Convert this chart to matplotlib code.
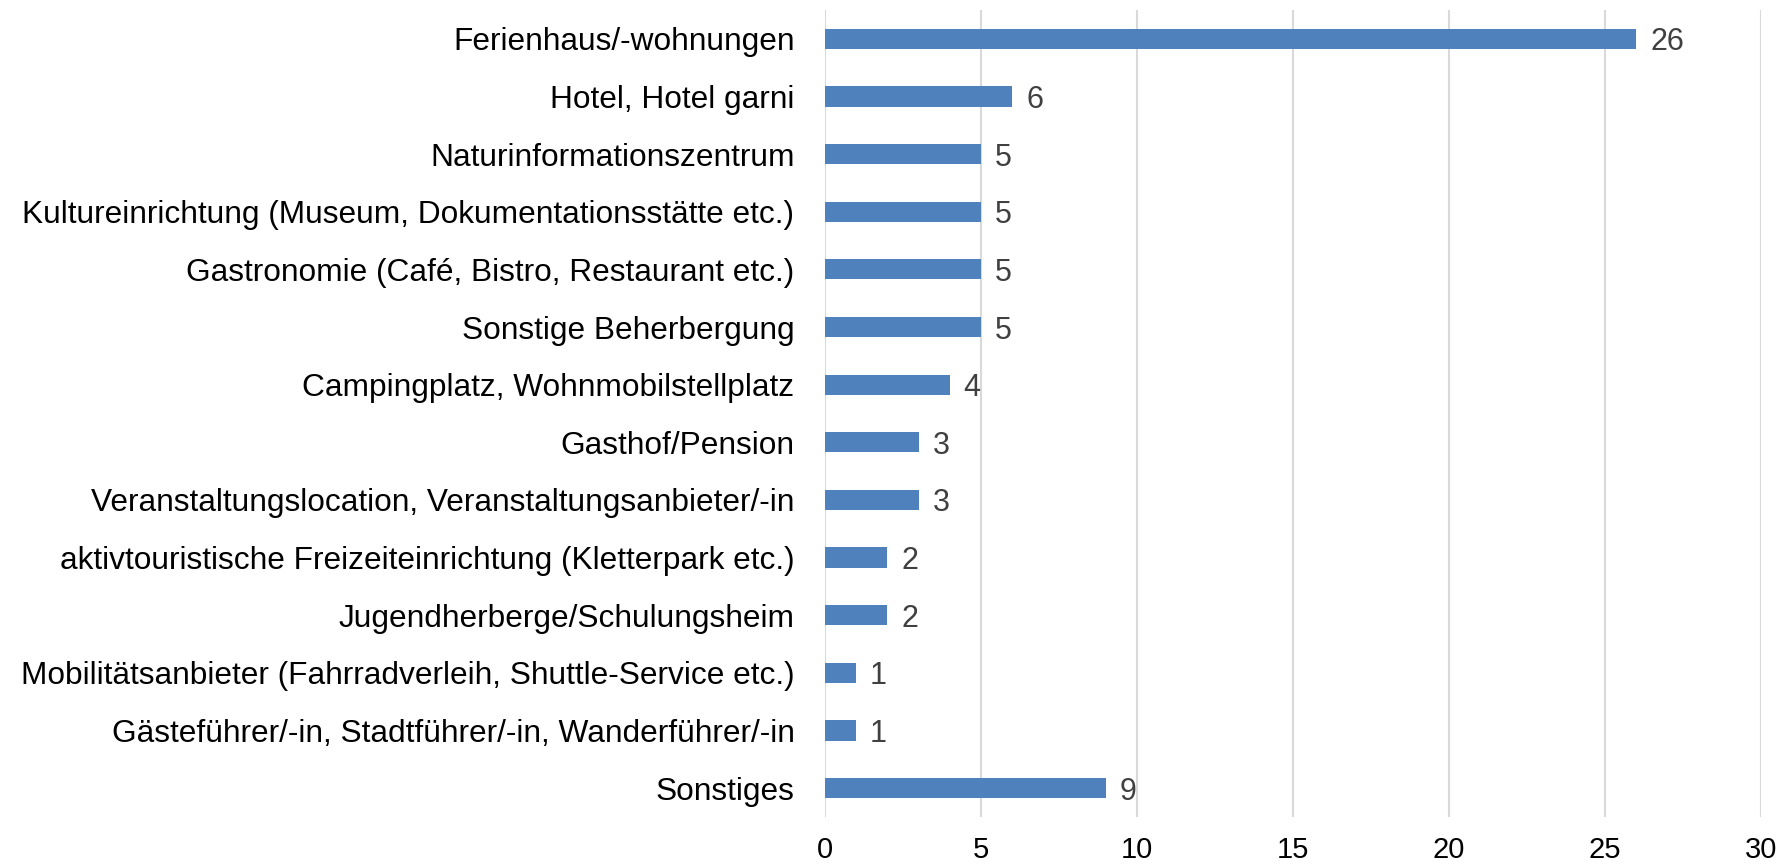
import matplotlib
matplotlib.use('Agg')
import matplotlib.pyplot as plt

plt.rcParams['font.family'] = ['Liberation Sans', 'DejaVu Sans']

kategorien = [
    'Ferienhaus/-wohnungen',
    'Hotel, Hotel garni',
    'Naturinformationszentrum',
    'Kultureinrichtung (Museum, Dokumentationsstätte etc.)',
    'Gastronomie (Café, Bistro, Restaurant etc.)',
    'Sonstige Beherbergung',
    'Campingplatz, Wohnmobilstellplatz',
    'Gasthof/Pension',
    'Veranstaltungslocation, Veranstaltungsanbieter/-in',
    'aktivtouristische Freizeiteinrichtung (Kletterpark etc.)',
    'Jugendherberge/Schulungsheim',
    'Mobilitätsanbieter (Fahrradverleih, Shuttle-Service etc.)',
    'Gästeführer/-in, Stadtführer/-in, Wanderführer/-in',
    'Sonstiges',
]
anzahl = [26, 6, 5, 5, 5, 5, 4, 3, 3, 2, 2, 1, 1, 9]
x_ticks = [0, 5, 10, 15, 20, 25, 30]

fig = plt.figure(figsize=(17.85, 8.68), dpi=100)
ax = fig.add_axes([0.4622, 0.0588, 0.5244, 0.9297])

pos = list(range(len(kategorien)))
bars = ax.barh(pos, anzahl, height=0.35, color='#4F81BD', zorder=3)
for b, v in zip(bars, anzahl):
    ax.annotate(str(v), (b.get_width(), b.get_y() + b.get_height() / 2),
                xytext=(10, 0), textcoords='offset points',
                va='center_baseline', ha='left', fontsize=22, color='#404040')

ax.set_yticks(pos)
ax.set_yticklabels(kategorien, fontsize=22.8)
ax.set_ylim(len(kategorien) - 0.5, -0.5)
ax.set_xlim(0, 30)
ax.set_xticks(x_ticks)
ax.set_xticklabels([str(t) for t in x_ticks], fontsize=21)
ax.tick_params(axis='y', length=0, pad=22)
ax.tick_params(axis='x', length=0, pad=14)
ax.grid(axis='x', color='#d9d9d9', linewidth=1.5, zorder=0)
for s in ax.spines.values():
    s.set_visible(False)

plt.savefig('out.png', dpi=100)
plt.close()
